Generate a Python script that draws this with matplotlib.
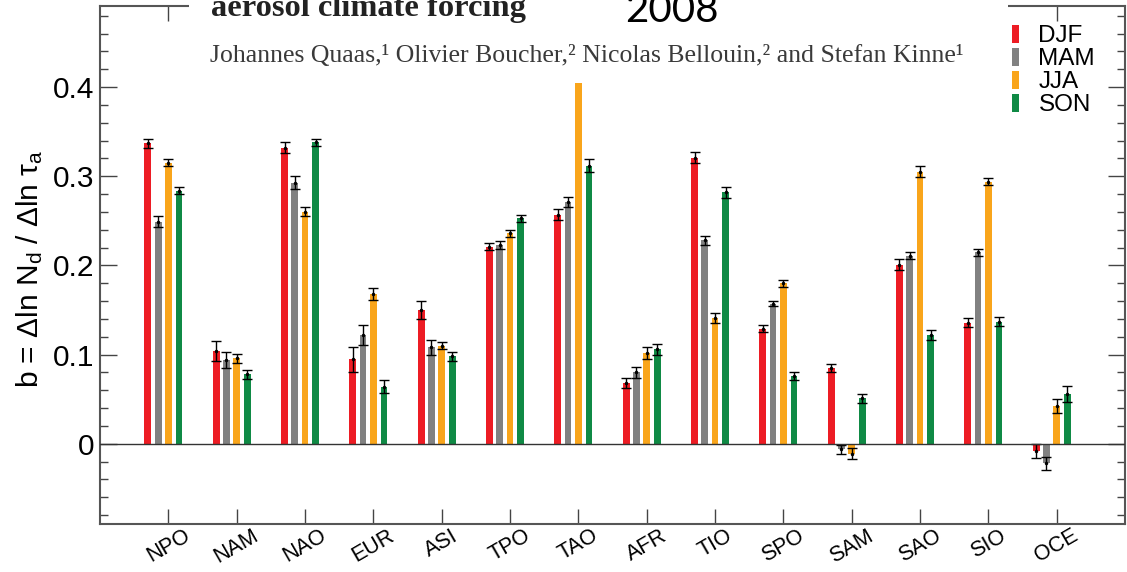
import matplotlib
matplotlib.use("Agg")
import matplotlib.pyplot as plt
import numpy as np
from matplotlib.patches import Patch, Rectangle

plt.rcParams["font.family"] = ["Liberation Sans", "DejaVu Sans"]
plt.rcParams["mathtext.fontset"] = "custom"
plt.rcParams["mathtext.rm"] = "Liberation Sans"
plt.rcParams["mathtext.it"] = "Liberation Sans:italic"

regions = ["NPO", "NAM", "NAO", "EUR", "ASI", "TPO", "TAO",
           "AFR", "TIO", "SPO", "SAM", "SAO", "SIO", "OCE"]
seasons = ["DJF", "MAM", "JJA", "SON"]

djf = [0.337, 0.104, 0.332, 0.095, 0.150, 0.221, 0.257,
       0.068, 0.321, 0.129, 0.085, 0.201, 0.136, -0.008]
mam = [0.249, 0.094, 0.293, 0.122, 0.108, 0.223, 0.271,
       0.080, 0.228, 0.157, -0.006, 0.211, 0.215, -0.022]
jja = [0.315, 0.096, 0.260, 0.168, 0.110, 0.236, 0.440,
       0.102, 0.141, 0.180, -0.011, 0.305, 0.294, 0.042]
son = [0.284, 0.078, 0.338, 0.064, 0.098, 0.253, 0.312,
       0.106, 0.282, 0.076, 0.051, 0.122, 0.137, 0.056]

djf_err = [0.005, 0.011, 0.006, 0.014, 0.010, 0.004, 0.006,
           0.006, 0.006, 0.004, 0.005, 0.006, 0.005, 0.008]
mam_err = [0.006, 0.009, 0.007, 0.011, 0.008, 0.004, 0.006,
           0.006, 0.005, 0.003, 0.005, 0.004, 0.004, 0.007]
jja_err = [0.004, 0.005, 0.005, 0.007, 0.004, 0.004, 0.006,
           0.007, 0.006, 0.004, 0.006, 0.006, 0.004, 0.008]
son_err = [0.004, 0.005, 0.004, 0.007, 0.005, 0.004, 0.007,
           0.006, 0.006, 0.004, 0.005, 0.006, 0.005, 0.009]

colors = ["#ED1C24", "#818181", "#F9A51B", "#0F8A45"]

W, H = 1127, 572
fig = plt.figure(figsize=(W / 100, H / 100), dpi=100)
ax = fig.add_axes([100 / W, 1 - 524 / H, 1025 / W, 518 / H])

x = np.arange(len(regions))
offsets = [-0.30, -0.15, 0.0, 0.155]
bw = 0.1
for vals, errs, col, off, name in zip([djf, mam, jja, son],
                                      [djf_err, mam_err, jja_err, son_err],
                                      colors, offsets, seasons):
    ax.bar(x + off, vals, width=bw, color=col, edgecolor="none", label=name, zorder=2)
    ax.errorbar(x + off, vals, yerr=errs, fmt=".", ms=3, color="black",
                ecolor="black", elinewidth=1.0, capsize=3.5, capthick=1.0, zorder=3)

ax.axhline(0, color="#333333", lw=1.0, zorder=4)

ax.set_xlim(-1.0, 14.0)
ax.set_ylim(-0.09, 0.491)
ax.set_yticks([0, 0.1, 0.2, 0.3, 0.4])
ax.set_yticklabels(["0", "0.1", "0.2", "0.3", "0.4"])
ax.set_yticks(np.arange(-0.08, 0.49, 0.02), minor=True)
ax.set_xticks(x)
ax.set_xticklabels(regions, rotation=30, ha="center", fontsize=15.5)
ax.tick_params(axis="y", which="major", direction="in", length=12, width=1,
               labelsize=21.5, left=True, right=True, color="#444444", pad=4)
ax.tick_params(axis="y", which="minor", direction="in", length=6, width=1,
               left=True, right=True, color="#444444")
ax.tick_params(axis="x", which="major", direction="in", length=11, width=1,
               top=True, bottom=True, color="#444444", pad=1)
for s in ax.spines.values():
    s.set_color("#555555")
    s.set_linewidth(1.5)

ax.set_ylabel(r"b = Δln N$_{\rm d}$ / Δln τ$_{\rm a}$", fontsize=21.5)
ax.yaxis.set_label_coords(-0.054, 0.492)

handles = [Patch(facecolor=c, edgecolor="none") for c in colors]
ax.legend(handles, seasons, loc="upper left", bbox_to_anchor=(1012 / W, 1 - 25 / H),
          bbox_transform=fig.transFigure, frameon=False, fontsize=17.5,
          handlelength=0.29, handleheight=0.74, handletextpad=0.8,
          labelspacing=0.03, borderpad=0, borderaxespad=0)

# header block over the top of the plot
fig.patches.append(Rectangle((189 / W, 1 - 83 / H), (1008 - 189) / W, 83 / H,
                             transform=fig.transFigure, facecolor="white",
                             edgecolor="none", zorder=5))
fig.text(211 / W, 1 - 16 / H, "aerosol climate forcing", family="Liberation Serif",
         weight="bold", fontsize=23.4, color="#222222", va="baseline", zorder=6)
fig.text(625 / W, 1 - 22 / H, "2008", family="Lato", fontsize=29,
         color="black", va="baseline", zorder=6)
fig.text(210 / W, 1 - 62 / H,
         "Johannes Quaas,¹ Olivier Boucher,² Nicolas Bellouin,² and Stefan Kinne¹",
         family="Liberation Serif", fontsize=18.5, color="#3a3a3a",
         va="baseline", zorder=6)

fig.savefig("out.png", dpi=100, facecolor="white")
